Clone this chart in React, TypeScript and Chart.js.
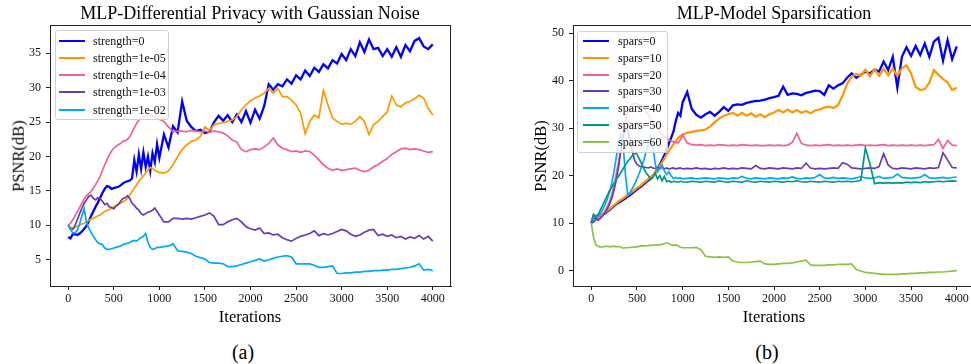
import React, { useEffect, useRef } from "react";
import { Chart, registerables } from "chart.js";

Chart.register(...registerables);

// ---------- data ----------
const iterations = [
  0, 25, 50, 75, 100, 125, 150, 175, 200, 225, 250, 275, 300, 325, 350, 375, 400, 425, 450, 475, 500,
  525, 550, 575, 600, 625, 650, 675, 700, 725, 750, 775, 800, 825, 850, 875, 900, 925, 950, 975, 1000,
  1050, 1100, 1150, 1200, 1250, 1300, 1350, 1400, 1450, 1500, 1550, 1600, 1650, 1700, 1750, 1800, 1850, 1900, 1950, 2000,
  2050, 2100, 2150, 2200, 2250, 2300, 2350, 2400, 2450, 2500, 2550, 2600, 2650, 2700, 2750, 2800, 2850, 2900, 2950, 3000,
  3050, 3100, 3150, 3200, 3250, 3300, 3350, 3400, 3450, 3500, 3550, 3600, 3650, 3700, 3750, 3800, 3850, 3900, 3950, 4000,
];

const xTicks = [0, 500, 1000, 1500, 2000, 2500, 3000, 3500, 4000];
const yTicksA = [5, 10, 15, 20, 25, 30, 35];
const yTicksB = [0, 10, 20, 30, 40, 50];

const titleA = "MLP-Differential Privacy with Gaussian Noise";
const titleB = "MLP-Model Sparsification";
const labelsA = ["strength=0", "strength=1e-05", "strength=1e-04", "strength=1e-03", "strength=1e-02"];
const labelsB = ["spars=0", "spars=10", "spars=20", "spars=30", "spars=40", "spars=50", "spars=60"];

// (a) Differential privacy
const strength0 = [
  8.3, 8.1, 8.7, 8.7, 8.6, 8.8, 9.1, 9.5, 9.9, 10.6, 11.3, 12.0, 12.7, 13.3, 14.0, 14.7, 15.3, 15.7, 15.6, 15.3, 15.4,
  15.5, 15.6, 15.8, 16.1, 16.3, 16.4, 16.5, 16.8, 19.5, 17.8, 20.3, 18.2, 20.6, 18.5, 20.0, 17.9, 20.5, 19.2, 21.8, 19.8,
  23.2, 21.3, 24.4, 23.5, 28.0, 25.2, 24.3, 23.7, 23.9, 23.4, 23.6, 25.0, 25.9, 25.2, 26.0, 25.0, 26.1, 25.0, 26.6, 24.9,
  26.8, 25.5, 27.3, 30.5, 29.7, 30.5, 30.2, 31.2, 30.6, 31.8, 31.2, 32.5, 31.7, 32.9, 32.3, 33.4, 32.8, 34.0, 33.5, 34.9,
  34.0, 35.6, 34.6, 36.6, 35.2, 37.0, 35.6, 35.8, 34.6, 35.6, 34.5, 35.9, 34.5, 36.2, 35.3, 36.8, 37.2, 36.0, 35.6, 36.3,
];
const strength1e05 = [
  10.0, 9.7, 9.6, 9.7, 9.9, 10.0, 10.2, 10.3, 10.5, 10.7, 10.9, 11.0, 11.2, 11.4, 11.5, 11.8, 12.0, 12.2, 12.3, 12.5, 12.7,
  12.9, 13.1, 13.2, 13.4, 13.6, 13.9, 14.4, 14.9, 15.4, 15.9, 16.4, 16.8, 17.2, 17.6, 18.0, 18.4, 18.3, 18.0, 17.8, 17.7,
  17.6, 17.9, 18.8, 20.0, 21.0, 21.7, 22.2, 22.4, 22.9, 24.3, 23.8, 24.6, 24.8, 24.9, 25.1, 25.3, 25.8, 26.8, 27.5, 28.1,
  28.5, 28.8, 29.2, 29.9, 29.2, 29.9, 28.7, 28.7, 28.2, 27.5, 26.3, 23.3, 25.1, 26.0, 25.6, 29.6, 27.5, 25.6, 25.1, 24.7,
  24.8, 24.7, 25.1, 25.8, 25.1, 23.2, 24.6, 25.1, 25.8, 26.5, 28.8, 27.5, 27.2, 27.8, 28.0, 28.4, 28.9, 28.5, 27.0, 26.0,
];
const strength1e04 = [
  10.0, 10.3, 10.8, 11.4, 12.0, 12.6, 13.2, 13.8, 14.3, 14.6, 14.9, 15.4, 15.9, 16.5, 17.1, 18.0, 18.8, 19.5, 20.2, 20.8, 21.2,
  21.5, 21.7, 21.9, 22.2, 22.3, 22.5, 22.9, 23.5, 24.2, 24.8, 25.3, 25.6, 25.8, 25.9, 26.0, 25.8, 25.9, 25.6, 25.5, 25.4,
  25.1, 24.3, 23.6, 23.7, 23.7, 23.6, 23.8, 23.7, 23.6, 23.7, 23.5, 23.7, 23.6, 23.4, 23.0, 22.4, 22.1, 21.0, 20.7, 21.0,
  21.1, 21.0, 21.4, 21.9, 22.7, 21.7, 21.2, 21.0, 20.7, 20.8, 20.6, 20.8, 20.7, 20.2, 19.5, 18.8, 18.3, 18.0, 18.2, 18.0,
  18.1, 18.2, 18.3, 18.0, 17.8, 18.0, 18.5, 18.8, 19.3, 19.7, 20.3, 20.7, 21.1, 21.2, 21.0, 21.1, 21.0, 20.8, 20.6, 20.7,
];
const strength1e03 = [
  10.0, 9.4, 9.4, 10.0, 10.8, 11.7, 12.5, 13.2, 13.7, 14.2, 14.4, 13.9, 13.7, 14.0, 13.9, 13.5, 13.0, 13.2, 12.7, 12.6, 12.4,
  12.8, 13.0, 13.5, 13.9, 14.0, 14.3, 13.9, 13.2, 12.9, 12.5, 12.2, 11.7, 11.5, 11.7, 11.9, 12.0, 12.2, 12.5, 12.0, 11.5,
  10.5, 10.5, 11.0, 11.0, 10.9, 11.0, 10.9, 11.1, 11.3, 11.5, 11.8, 11.3, 10.1, 10.1, 10.5, 10.8, 11.0, 10.5, 9.8, 9.5,
  9.3, 9.6, 8.8, 8.9, 8.6, 8.7, 8.2, 7.9, 7.7, 8.1, 8.4, 8.6, 8.8, 9.2, 8.5, 8.8, 8.6, 8.8, 9.1, 9.4,
  9.2, 8.7, 8.4, 8.6, 9.0, 9.3, 9.4, 8.5, 8.7, 8.4, 8.6, 8.2, 8.4, 8.0, 8.3, 8.1, 8.5, 8.0, 8.4, 7.7,
];
const strength1e02 = [
  10.1, 9.4, 8.9, 8.9, 9.3, 10.2, 11.4, 12.4, 10.5, 9.6, 9.0, 8.4, 7.9, 7.5, 7.3, 7.2, 6.7, 6.5, 6.5, 6.6, 6.7,
  6.8, 6.9, 7.0, 7.2, 7.3, 7.4, 7.5, 7.7, 7.8, 7.7, 8.0, 8.2, 8.4, 8.8, 7.5, 6.8, 6.5, 6.6, 6.8, 6.8,
  6.9, 7.0, 7.3, 6.3, 6.2, 6.1, 5.9, 5.5, 5.3, 5.1, 4.6, 4.5, 4.5, 4.4, 4.0, 4.0, 4.1, 4.3, 4.5, 4.7,
  4.9, 5.1, 4.8, 5.0, 5.2, 5.4, 5.5, 5.6, 5.4, 4.4, 4.4, 4.4, 4.4, 4.2, 3.9, 3.9, 4.0, 4.1, 3.0, 3.0,
  3.1, 3.1, 3.2, 3.2, 3.3, 3.3, 3.4, 3.4, 3.5, 3.5, 3.6, 3.6, 3.7, 3.8, 3.9, 4.1, 4.4, 3.5, 3.6, 3.4,
];

// (b) Sparsification
const spars0 = [
  10.0, 11.4, 11.0, 11.2, 11.6, 11.8, 12.0, 12.4, 12.8, 13.2, 13.6, 14.0, 14.3, 14.6, 14.9, 15.2, 15.6, 15.9, 16.3, 16.7, 17.1,
  17.4, 17.8, 18.2, 18.6, 19.0, 19.4, 20.0, 20.6, 21.4, 22.3, 23.3, 24.3, 25.5, 26.8, 28.0, 29.3, 31.5, 33.2, 32.6, 35.4,
  37.6, 34.0, 32.8, 32.2, 32.9, 33.4, 32.6, 33.4, 34.4, 33.6, 34.8, 35.0, 34.9, 35.3, 35.5, 35.7, 35.8, 36.0, 36.3, 36.5,
  36.8, 38.7, 37.0, 37.3, 37.2, 36.9, 37.4, 37.6, 37.9, 37.8, 37.0, 39.0, 38.3, 39.0, 39.4, 40.6, 41.5, 40.6, 41.2, 41.9,
  41.5, 42.3, 41.9, 44.0, 42.2, 45.0, 38.5, 45.0, 47.0, 45.2, 47.3, 45.4, 47.8, 45.0, 48.2, 49.0, 44.2, 48.5, 44.5, 47.2,
];
const spars10 = [
  10.0, 11.6, 11.3, 11.3, 11.6, 11.9, 12.2, 12.6, 13.0, 13.4, 13.8, 14.2, 14.6, 14.9, 15.2, 15.6, 15.9, 16.3, 16.6, 17.0, 17.4,
  17.7, 18.1, 18.5, 18.9, 19.3, 19.7, 20.1, 20.5, 21.2, 22.0, 22.8, 23.6, 24.4, 25.2, 25.9, 26.6, 27.3, 27.9, 28.3, 28.6,
  29.0, 29.2, 29.4, 29.5, 29.7, 30.3, 31.2, 32.0, 32.6, 32.9, 33.2, 32.6, 33.2, 32.6, 33.1, 32.4, 32.9, 32.3, 32.9, 33.3,
  33.8, 33.3, 33.9, 33.3, 33.8, 33.2, 33.6, 33.1, 33.7, 33.9, 34.3, 34.5, 34.2, 34.8, 36.8, 39.3, 40.8, 41.4, 41.0, 42.3,
  40.9, 42.4, 41.0, 42.5, 41.1, 42.5, 41.0, 42.6, 43.2, 41.5, 38.7, 38.0, 38.2, 39.5, 42.2, 41.2, 40.3, 39.6, 38.0, 38.5,
];
const spars20 = [
  10.0, 11.8, 11.3, 11.0, 11.3, 11.8, 12.5, 13.4, 14.5, 16.0, 18.0, 20.5, 23.0, 26.0, 29.0, 31.5, 33.3, 34.4, 35.0, 35.2, 35.1,
  34.9, 34.6, 34.2, 33.5, 32.8, 32.0, 31.2, 30.5, 29.8, 29.2, 28.7, 28.2, 27.8, 27.5, 27.3, 27.1, 27.0, 26.9, 27.5, 28.6,
  26.9, 26.5, 26.4, 26.5, 26.3, 26.4, 26.3, 26.5, 26.4, 26.3, 26.4, 26.3, 26.5, 26.4, 26.3, 26.4, 26.3, 26.3, 26.4, 26.3,
  26.4, 26.3, 26.4, 27.0, 28.9, 26.8, 26.4, 26.3, 26.4, 26.3, 26.4, 26.5, 26.3, 26.4, 26.3, 26.4, 26.3, 26.4, 26.5, 26.3,
  26.4, 26.3, 26.4, 26.5, 26.3, 26.4, 26.3, 26.4, 26.3, 26.4, 26.3, 26.4, 26.3, 26.4, 26.5, 27.6, 25.7, 27.4, 26.4, 26.3,
];
const spars30 = [
  10.0, 10.2, 10.8, 10.6, 11.0, 11.5, 12.2, 13.0, 14.0, 15.3, 17.0, 19.2, 22.0, 25.5, 28.5, 29.8, 29.5, 27.5, 25.0, 23.2, 22.4,
  22.0, 21.8, 21.8, 21.7, 21.6, 21.8, 21.6, 21.5, 21.7, 21.5, 21.7, 21.4, 21.6, 21.4, 21.5, 21.6, 21.4, 21.5, 21.6, 21.4,
  21.5, 21.4, 21.6, 21.4, 21.5, 21.3, 21.5, 21.4, 21.6, 21.4, 21.5, 21.4, 21.6, 21.5, 21.4, 22.1, 21.5, 21.4, 21.6, 21.5,
  21.4, 21.6, 21.5, 21.4, 21.6, 21.5, 22.6, 21.6, 21.4, 21.5, 21.4, 21.5, 21.6, 21.5, 22.7, 22.4, 21.6, 21.5, 21.4, 21.5,
  21.6, 21.5, 21.9, 24.6, 22.2, 21.5, 21.4, 21.6, 21.5, 21.4, 21.6, 21.5, 21.4, 21.6, 21.5, 21.7, 24.8, 23.3, 21.7, 21.6,
];
const spars40 = [
  10.0, 11.3, 11.6, 11.5, 12.0, 12.8, 13.8, 15.0, 16.5, 18.5, 21.0, 24.0, 27.0, 28.5, 26.0, 20.0, 15.9, 16.5, 17.3, 18.2, 19.3,
  20.5, 21.8, 23.3, 25.0, 26.8, 28.2, 26.0, 22.5, 20.8, 21.5, 22.2, 21.0, 20.2, 20.8, 19.9, 19.4, 19.6, 19.4, 19.5, 19.3,
  19.4, 19.5, 19.3, 19.4, 19.5, 19.4, 19.3, 19.5, 19.4, 19.3, 19.5, 19.4, 19.8, 19.4, 19.3, 19.5, 19.4, 19.3, 19.5, 19.4,
  19.3, 19.5, 19.4, 19.7, 19.4, 19.3, 19.5, 19.4, 19.6, 20.2, 19.5, 19.4, 19.6, 19.4, 19.5, 19.4, 19.3, 19.5, 19.8, 19.5,
  19.4, 19.5, 19.8, 19.4, 19.5, 19.6, 20.3, 19.6, 19.5, 19.4, 19.5, 19.6, 20.2, 19.5, 19.4, 19.5, 19.6, 19.4, 19.6, 19.7,
];
const spars50 = [
  10.0, 11.8, 11.2, 11.8, 12.8, 13.8, 14.8, 15.8, 16.8, 17.6, 18.4, 19.2, 19.9, 20.7, 21.5, 22.3, 23.0, 23.6, 24.2, 24.7, 24.5,
  23.5, 22.5, 21.5, 20.6, 20.0, 19.2, 19.6, 20.5, 19.3, 20.0, 18.9, 19.8, 18.7, 18.9, 18.6, 18.8, 18.7, 18.6, 18.8, 18.7,
  18.6, 18.8, 18.7, 18.6, 18.8, 18.7, 18.6, 18.9, 18.7, 18.6, 18.8, 18.7, 18.6, 18.9, 18.7, 18.6, 18.8, 18.7, 18.6, 18.8,
  18.7, 18.6, 18.8, 18.7, 18.9, 18.7, 18.6, 18.8, 18.7, 18.6, 18.8, 18.7, 18.6, 18.8, 18.7, 18.8, 18.7, 18.8, 19.0, 25.8,
  22.5, 18.3, 18.5, 18.4, 18.5, 18.4, 18.5, 18.4, 18.6, 18.5, 18.6, 18.5, 18.7, 18.6, 18.7, 18.8, 18.7, 18.8, 18.9, 18.8,
];
const spars60 = [
  10.0, 7.0, 5.4, 5.1, 5.0, 5.0, 5.1, 5.1, 5.0, 5.1, 5.1, 5.0, 5.1, 4.9, 4.7, 4.8, 4.8, 4.9, 4.9, 5.0, 5.0,
  5.1, 5.2, 5.2, 5.2, 5.3, 5.3, 5.3, 5.4, 5.4, 5.4, 5.5, 5.7, 5.8, 5.7, 5.4, 5.3, 5.4, 5.2, 4.9, 4.8,
  4.8, 4.8, 4.9, 4.4, 3.0, 2.9, 2.8, 2.9, 2.8, 2.9, 2.0, 1.8, 1.7, 1.7, 1.8, 1.9, 2.0, 1.4, 1.3, 1.3,
  1.4, 1.5, 1.5, 1.6, 1.8, 2.0, 2.2, 1.2, 1.1, 1.1, 1.1, 1.2, 1.2, 1.3, 1.3, 1.3, 1.4, 0.2, -0.1, -0.4,
  -0.5, -0.6, -0.7, -0.8, -0.8, -0.8, -0.8, -0.7, -0.7, -0.6, -0.6, -0.5, -0.5, -0.4, -0.4, -0.3, -0.3, -0.2, -0.1, 0.0,
];

const seriesA = [strength0, strength1e05, strength1e04, strength1e03, strength1e02];
const seriesB = [spars0, spars10, spars20, spars30, spars40, spars50, spars60];

const colorsA = ["#0000FF", "#FF9800", "#F06292", "#673AB7", "#03A9F4"];
const colorsB = ["#0000FF", "#FF9800", "#F06292", "#673AB7", "#03A9F4", "#009688", "#8BC34A"];
const widthsA = [2.3, 1.7, 1.7, 1.7, 1.7];
const widthsB = [2.3, 2.2, 1.7, 1.7, 1.7, 1.7, 1.7];

// ---------- styling ----------
const FONT = "'Liberation Serif', 'Times New Roman', serif";
const AXIS_COLOR = "#222";

const framePlugin = {
  id: "frame",
  afterDraw(chart: any) {
    const { ctx, chartArea } = chart;
    const { left, top, right, bottom } = chartArea;
    ctx.save();
    ctx.strokeStyle = AXIS_COLOR;
    ctx.lineWidth = 1;
    ctx.beginPath();
    ctx.moveTo(left, Math.round(top) + 0.5);
    ctx.lineTo(right, Math.round(top) + 0.5);
    ctx.moveTo(Math.round(right) - 0.5, top);
    ctx.lineTo(Math.round(right) - 0.5, bottom);
    ctx.stroke();
    ctx.restore();
  },
};

function makeConfig(
  series: number[][],
  labels: string[],
  colors: string[],
  widths: number[],
  yMin: number,
  yMax: number,
  yTicks: number[],
  yWidth: number,
  padRight: number
): any {
  const n = series.length;
  return {
    type: "line",
    data: {
      datasets: series.map((s, i) => ({
        label: labels[i],
        data: iterations.map((x, j) => ({ x, y: s[j] })),
        borderColor: colors[i],
        backgroundColor: colors[i],
        borderWidth: widths[i],
        pointRadius: 0,
        tension: 0,
        fill: false,
        order: n - i,
      })),
    },
    options: {
      responsive: false,
      animation: false,
      devicePixelRatio: 1,
      events: [],
      layout: { padding: { left: 0, right: padRight, top: 25, bottom: 0 } },
      plugins: {
        legend: { display: false },
        title: { display: false },
        tooltip: { enabled: false },
      },
      scales: {
        x: {
          type: "linear",
          min: -200,
          max: 4200,
          afterBuildTicks: (s: any) => {
            s.ticks = xTicks.map((v) => ({ value: v }));
          },
          afterFit: (s: any) => {
            s.height = 24;
          },
          grid: { drawOnChartArea: false, drawTicks: true, tickLength: 4, tickColor: AXIS_COLOR, tickWidth: 1 },
          border: { display: true, color: AXIS_COLOR, width: 1 },
          ticks: {
            font: { family: FONT, size: 12 },
            color: "#111",
            padding: 2,
            maxRotation: 0,
            autoSkip: false,
            callback: (v: any) => String(v),
          },
        },
        y: {
          type: "linear",
          min: yMin,
          max: yMax,
          afterBuildTicks: (s: any) => {
            s.ticks = yTicks.map((v) => ({ value: v }));
          },
          afterFit: (s: any) => {
            s.width = yWidth;
          },
          grid: { drawOnChartArea: false, drawTicks: true, tickLength: 4, tickColor: AXIS_COLOR, tickWidth: 1 },
          border: { display: true, color: AXIS_COLOR, width: 1 },
          ticks: {
            font: { family: FONT, size: 12 },
            color: "#111",
            padding: 5,
            autoSkip: false,
            callback: (v: any) => String(v),
          },
        },
      },
    },
    plugins: [framePlugin],
  };
}

function Text(props: { x: number; y: number; size: number; text: string; rotate?: boolean }) {
  const { x, y, size, text, rotate } = props;
  return (
    <div
      style={{
        position: "absolute",
        left: x,
        top: y,
        transform: `translate(-50%, -50%)${rotate ? " rotate(-90deg)" : ""}`,
        fontFamily: FONT,
        fontSize: size,
        lineHeight: 1,
        whiteSpace: "nowrap",
        color: "#000",
      }}
    >
      {text}
    </div>
  );
}

function Legend(props: {
  left: number;
  top: number;
  width: number;
  height: number;
  firstY: number;
  step: number;
  lineX0: number;
  lineX1: number;
  textX: number;
  labels: string[];
  colors: string[];
}) {
  const { left, top, width, height, firstY, step, lineX0, lineX1, textX, labels, colors } = props;
  return (
    <>
      <div
        style={{
          position: "absolute",
          left,
          top,
          width,
          height,
          boxSizing: "border-box",
          border: "1px solid #d0d0d0",
          borderRadius: 3,
          background: "rgba(255,255,255,0.8)",
        }}
      />
      {labels.map((lab, i) => {
        const cy = firstY + step * i;
        return (
          <React.Fragment key={lab}>
            <div
              style={{
                position: "absolute",
                left: lineX0,
                top: cy - 1,
                width: lineX1 - lineX0,
                height: 2,
                background: colors[i],
              }}
            />
            <div
              style={{
                position: "absolute",
                left: textX,
                top: cy,
                transform: "translateY(-50%)",
                fontFamily: FONT,
                fontSize: 12,
                lineHeight: 1,
                whiteSpace: "nowrap",
                color: "#111",
              }}
            >
              {lab}
            </div>
          </React.Fragment>
        );
      })}
    </>
  );
}

export default function App() {
  const refA = useRef<HTMLCanvasElement>(null);
  const refB = useRef<HTMLCanvasElement>(null);

  useEffect(() => {
    const a = new Chart(
      refA.current as HTMLCanvasElement,
      makeConfig(seriesA, labelsA, colorsA, widthsA, 1.18, 39.11, yTicksA, 50, 39)
    );
    const b = new Chart(
      refB.current as HTMLCanvasElement,
      makeConfig(seriesB, labelsB, colorsB, widthsB, -3.25, 51.7, yTicksB, 83, 5)
    );
    return () => {
      a.destroy();
      b.destroy();
    };
  }, []);

  return (
    <div
      style={{
        position: "absolute",
        left: 0,
        top: 0,
        width: 971,
        height: 364,
        overflow: "hidden",
        background: "#fff",
      }}
    >
      <canvas
        ref={refA}
        width={490}
        height={310}
        style={{ position: "absolute", left: 0, top: 0, width: 490, height: 310 }}
      />
      <canvas
        ref={refB}
        width={490}
        height={310}
        style={{ position: "absolute", left: 490, top: 0, width: 490, height: 310 }}
      />

      <Text x={250} y={13} size={18} text={titleA} />
      <Text x={774} y={13} size={18} text={titleB} />
      <Text x={250} y={317} size={16.5} text="Iterations" />
      <Text x={774} y={317} size={16.5} text="Iterations" />
      <Text x={18.5} y={155.5} size={16.5} text="PSNR(dB)" rotate />
      <Text x={541} y={155.5} size={16.5} text="PSNR(dB)" rotate />
      <Text x={243} y={352} size={20} text="(a)" />
      <Text x={767} y={352} size={20} text="(b)" />

      <Legend
        left={55}
        top={30}
        width={114}
        height={90}
        firstY={40.7}
        step={17.2}
        lineX0={59}
        lineX1={85}
        textX={93}
        labels={labelsA}
        colors={colorsA}
      />
      <Legend
        left={577}
        top={31}
        width={91}
        height={122}
        firstY={40.7}
        step={16.9}
        lineX0={583}
        lineX1={609}
        textX={618}
        labels={labelsB}
        colors={colorsB}
      />
    </div>
  );
}
